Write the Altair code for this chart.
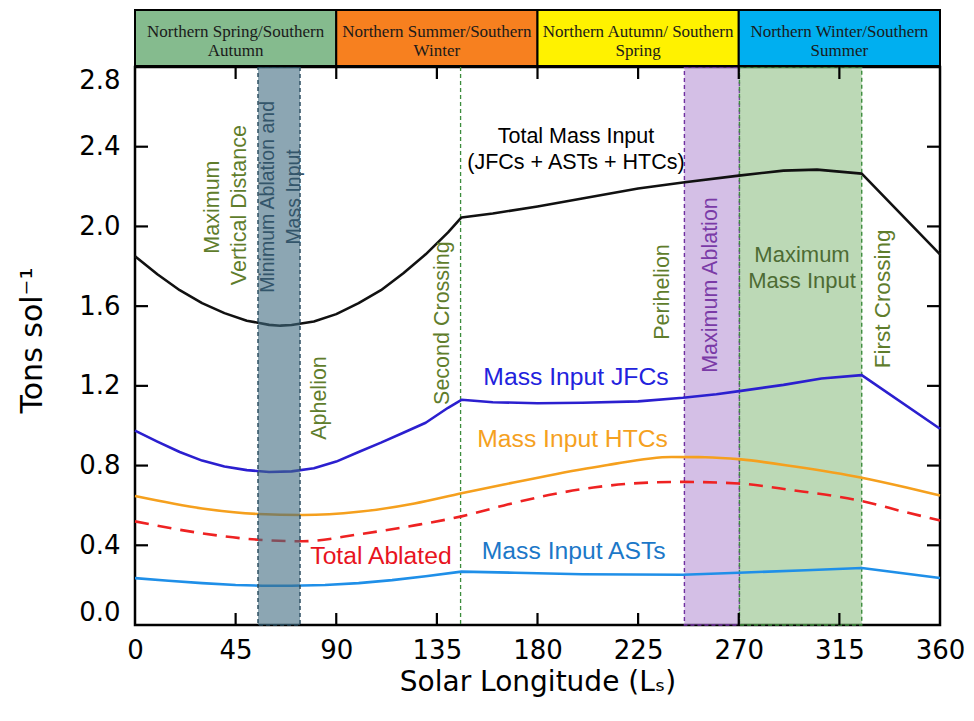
import altair as alt
import pandas as pd

# ---- Series (tons per sol versus solar longitude) ----
total_ls = [0, 10, 20, 30, 40, 50, 60, 65, 70, 80, 90, 100, 110, 120, 130, 140, 146,
            160, 180, 200, 225, 245, 270, 290, 305, 325, 360]
total_v = [1.85, 1.76, 1.68, 1.615, 1.565, 1.527, 1.506, 1.502, 1.505, 1.523, 1.56, 1.615,
           1.68, 1.765, 1.86, 1.97, 2.045, 2.065, 2.10, 2.14, 2.19, 2.22, 2.255, 2.28,
           2.285, 2.265, 1.86]

jfc_ls = [0, 10, 20, 30, 40, 50, 60, 70, 80, 90, 100, 110, 120, 130, 140, 146,
          160, 180, 200, 225, 245, 260, 271, 290, 307, 325, 360]
jfc_v = [0.975, 0.92, 0.868, 0.825, 0.795, 0.777, 0.768, 0.771, 0.787, 0.82, 0.868, 0.915,
         0.965, 1.015, 1.09, 1.13, 1.118, 1.113, 1.115, 1.122, 1.14, 1.158, 1.175, 1.205,
         1.237, 1.254, 0.985]

htc_ls = [0, 30, 55, 75, 100, 125, 146, 165, 184, 210, 240, 255, 271, 295, 325, 345, 360]
htc_v = [0.647, 0.585, 0.557, 0.552, 0.568, 0.61, 0.661, 0.705, 0.748, 0.80, 0.843, 0.842,
         0.831, 0.795, 0.739, 0.69, 0.65]

abl_ls = [0, 30, 55, 75, 100, 125, 146, 165, 185, 205, 225, 245, 270, 295, 315, 325, 345, 360]
abl_v = [0.52, 0.46, 0.428, 0.42, 0.455, 0.50, 0.545, 0.60, 0.652, 0.69, 0.712, 0.718, 0.71,
         0.675, 0.643, 0.622, 0.565, 0.525]

ast_ls = [0, 15, 30, 45, 57, 70, 85, 100, 115, 130, 146, 170, 200, 245, 270, 300, 325, 360]
ast_v = [0.235, 0.222, 0.21, 0.201, 0.197, 0.197, 0.201, 0.21, 0.225, 0.245, 0.268, 0.262,
         0.255, 0.252, 0.262, 0.275, 0.286, 0.236]

# ---- Seasons ----
season_start = [0, 90, 180, 270]
season_end = [90, 180, 270, 360]
season_line1 = ["Northern Spring/Southern", "Northern Summer/Southern",
                "Northern Autumn/ Southern", "Northern Winter/Southern"]
season_line2 = ["Autumn", "Winter", "Spring", "Summer"]
season_color = ["#85bb8e", "#f7801f", "#fff200", "#00aff0"]

# ---- Highlighted Ls windows ----
minimum_window = [55, 73.8]
max_ablation_window = [245.7, 270.3]
max_input_window = [270.3, 325]
second_crossing_ls = 145.6

x_ticks = [0, 45, 90, 135, 180, 225, 270, 315, 360]
y_ticks = [0.0, 0.4, 0.8, 1.2, 1.6, 2.0, 2.4, 2.8]

W, H = 805, 558

xs = alt.Scale(domain=[0, 360], nice=False, zero=False)
ys = alt.Scale(domain=[0, 2.8], nice=False, zero=False)

AX_FONT = "DejaVu Sans"
TXT_FONT = "Liberation Sans"

x_axis = alt.Axis(values=x_ticks, title="Solar Longitude (L\u209b)", ticks=False, tickSize=0,
                  domain=False, grid=False, labelFont=AX_FONT, labelFontSize=26,
                  labelColor="black", labelPadding=12, labelFlush=False,
                  titleFont=AX_FONT, titleFontSize=28, titleFontWeight="normal",
                  titleColor="black", titleX=W / 2, titleY=57, titleAlign="center",
                  titleBaseline="middle")
y_axis = alt.Axis(values=y_ticks, title="Tons  sol\u207b\u00b9", format=".1f", ticks=False,
                  tickSize=0, domain=False, grid=False, labelFont=AX_FONT,
                  labelFontSize=26, labelColor="black", labelPadding=15, labelFlush=True,
                  titleFont=AX_FONT, titleFontSize=30, titleFontWeight="normal",
                  titleColor="black", titleX=-103, titleY=H / 2 - 6, titleAngle=270,
                  titleAlign="center", titleBaseline="middle")


def series_layer(ls, v, color, width=2.6, dash=None, interp="linear"):
    df = pd.DataFrame({"Ls": ls, "v": v})
    kw = dict(color=color, strokeWidth=width, interpolate=interp, strokeJoin="round")
    if dash:
        kw["strokeDash"] = dash
    return alt.Chart(df).mark_line(**kw).encode(
        x=alt.X("Ls:Q", scale=xs, axis=x_axis),
        y=alt.Y("v:Q", scale=ys, axis=y_axis),
    )


def band_layer(window, fill, fill_opacity, stroke):
    df = pd.DataFrame({"a": [window[0]], "b": [window[1]]})
    return alt.Chart(df).mark_rect(fill=fill, fillOpacity=fill_opacity, stroke=stroke,
                                   strokeWidth=1.4, strokeDash=[4, 3]).encode(
        x=alt.X("a:Q", scale=xs), x2="b:Q", y=alt.value(0), y2=alt.value(H))


def text_layer(rows, color, size, angle=0, font=TXT_FONT):
    df = pd.DataFrame(rows, columns=["Ls", "v", "t"])
    kw = dict(color=color, fontSize=size, font=font, align="center", baseline="middle")
    if angle:
        kw["angle"] = angle
    return alt.Chart(df).mark_text(**kw).encode(
        x=alt.X("Ls:Q", scale=xs), y=alt.Y("v:Q", scale=ys), text="t:N")


# seasons strip above the frame
seasons = pd.DataFrame({"a": season_start, "b": season_end, "l1": season_line1,
                        "l2": season_line2, "c": season_color})
seasons["mid"] = (seasons["a"] + seasons["b"]) / 2
season_rects = alt.Chart(seasons).mark_rect(stroke="black", strokeWidth=2).encode(
    x=alt.X("a:Q", scale=xs), x2="b:Q", y=alt.value(-57), y2=alt.value(-1),
    fill=alt.Fill("c:N", scale=None))
season_t1 = alt.Chart(seasons).mark_text(font="Liberation Serif", fontSize=17,
                                         color="#1a1a1a", baseline="middle").encode(
    x=alt.X("mid:Q", scale=xs), y=alt.value(-35), text="l1:N")
season_t2 = alt.Chart(seasons).mark_text(font="Liberation Serif", fontSize=17,
                                         color="#1a1a1a", baseline="middle").encode(
    x=alt.X("mid:Q", scale=xs), y=alt.value(-16), text="l2:N")

# inward tick marks on all four sides
xt = pd.DataFrame({"p": x_ticks[1:-1]})
yt = pd.DataFrame({"p": y_ticks[1:-1]})
tick_style = dict(color="black", strokeWidth=2.2)
ticks_bottom = alt.Chart(xt).mark_rule(**tick_style).encode(
    x=alt.X("p:Q", scale=xs), y=alt.value(H), y2=alt.value(H - 12))
ticks_top = alt.Chart(xt).mark_rule(**tick_style).encode(
    x=alt.X("p:Q", scale=xs), y=alt.value(0), y2=alt.value(12))
ticks_left = alt.Chart(yt).mark_rule(**tick_style).encode(
    y=alt.Y("p:Q", scale=ys), x=alt.value(0), x2=alt.value(13))
ticks_right = alt.Chart(yt).mark_rule(**tick_style).encode(
    y=alt.Y("p:Q", scale=ys), x=alt.value(W), x2=alt.value(W - 13))

crossing = alt.Chart(pd.DataFrame({"p": [second_crossing_ls]})).mark_rule(
    color="#3c8c3c", strokeWidth=1.3, strokeDash=[4, 3]).encode(
    x=alt.X("p:Q", scale=xs), y=alt.value(0), y2=alt.value(H))

olive = "#5f7d2c"
annotations = [
    text_layer([(34.9, 2.097, "Maximum"), (47.0, 2.107, "Vertical Distance"),
                (82.7, 1.139, "Aphelion"), (137.7, 1.515, "Second Crossing"),
                (236.1, 1.671, "Perihelion")],
               olive, 21.5, angle=270),
    text_layer([(334.5, 1.636, "First  Crossing")], olive, 22.5, angle=270),
    text_layer([(59.5, 2.148, "Minimum Ablation and"), (71.1, 2.148, "Mass Input")],
               "#33556a", 19.5, angle=270),
    text_layer([(257.6, 1.706, "Maximum Ablation")], "#7a3aa6", 21.5, angle=270),
    text_layer([(298.3, 1.857, "Maximum"), (298.3, 1.726, "Mass Input")], "#4d6b33", 22),
    text_layer([(197.2, 2.449, "Total Mass Input"), (197.2, 2.318, "(JFCs + ASTs + HTCs)")],
               "black", 21.5),
    text_layer([(197.2, 1.239, "Mass Input JFCs")], "#2222dd", 24.7),
    text_layer([(195.7, 0.928, "Mass Input HTCs")], "#f5a11f", 24.7),
    text_layer([(110.0, 0.34, "Total Ablated")], "#e8141e", 24.7),
    text_layer([(196.2, 0.368, "Mass Input ASTs")], "#1c78c8", 24.7),
]

layers = [
    band_layer(max_ablation_window, "#a070c8", 0.45, "#7030a0"),
    band_layer(max_input_window, "#6aaa5e", 0.45, "#3c8c3c"),
    crossing,
    series_layer(ast_ls, ast_v, "#1f8fe8"),
    series_layer(abl_ls, abl_v, "#ee2222", dash=[14, 9], interp="monotone"),
    series_layer(htc_ls, htc_v, "#f5a01e", interp="monotone"),
    series_layer(jfc_ls, jfc_v, "#2b1fcf"),
    series_layer(total_ls, total_v, "#111111"),
    band_layer(minimum_window, "#3f6a80", 0.6, "#24475a"),
    ticks_bottom, ticks_top, ticks_left, ticks_right,
    season_rects, season_t1, season_t2,
] + annotations

chart = alt.layer(*layers).properties(
    width=W, height=H,
    padding={"left": 135, "top": 67, "right": 34, "bottom": 96},
    autosize=alt.AutoSizeParams(type="none"),
    background="white",
).configure_view(stroke="black", strokeWidth=2.5)

chart.save("out.html", embed_options={"renderer": "svg", "actions": False})
